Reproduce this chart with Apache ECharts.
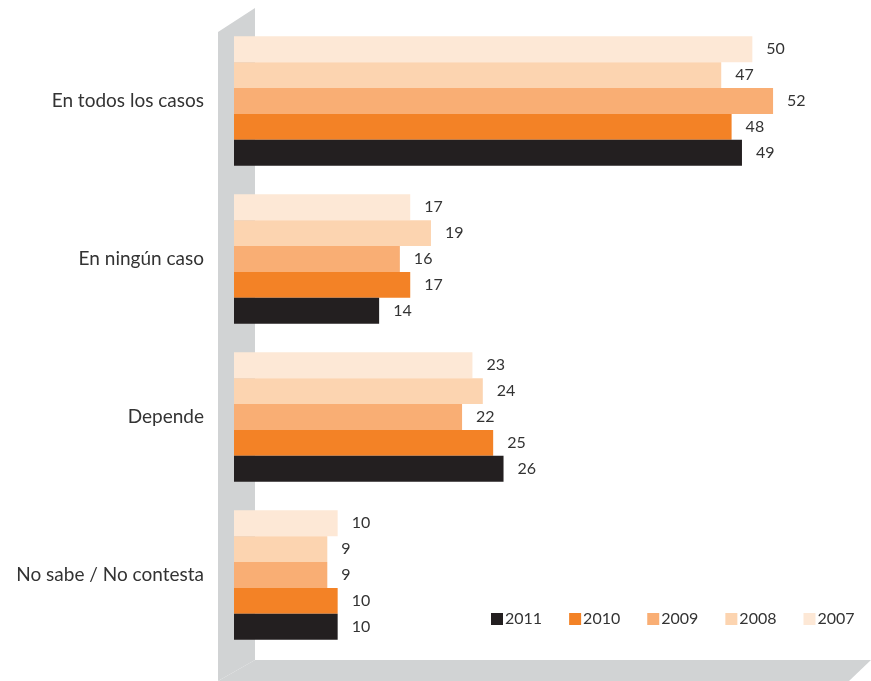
<!DOCTYPE html>
<html>
<head>
<meta charset="utf-8">
<script src="https://cdn.jsdelivr.net/npm/echarts@6/dist/echarts.min.js"></script>
<style>
  html, body { margin: 0; padding: 0; background: #fff; }
  #main { width: 871px; height: 681px; }
</style>
</head>
<body>
<div id="main"></div>
<script>
// categorias (de arriba abajo)
var categorias = ['En todos los casos', 'En ningún caso', 'Depende', 'No sabe / No contesta'];
var anios = ['2007', '2008', '2009', '2010', '2011'];
var leyenda = ['2011', '2010', '2009', '2008', '2007'];
// valores por año
var v2007 = [50, 17, 23, 10];
var v2008 = [47, 19, 24, 9];
var v2009 = [52, 16, 22, 9];
var v2010 = [48, 17, 25, 10];
var v2011 = [49, 14, 26, 10];
var valores = [v2007, v2008, v2009, v2010, v2011];
var colores = ['#fde8d6', '#fcd4b0', '#f9ae74', '#f38226', '#231f20'];

var fuente = 'Lato, "Noto Sans", sans-serif';
var gris = '#d1d3d4';

var chart = echarts.init(document.getElementById('main'));

var series = [];
for (var i = 0; i < anios.length; i++) {
	series.push({
		name: anios[i],
		type: 'bar',
		data: valores[i],
		barGap: 0,
		barCategoryGap: '18%',
		itemStyle: { color: colores[i] },
		label: {
			show: true,
			position: 'right',
			distance: 14,
			color: '#333',
			fontSize: 16,
			fontFamily: fuente
		},
		z: 3
	});
}

chart.setOption({
	animation: false,
	color: colores,
	grid: { left: 234, right: 15, top: 22, height: 632 },
	legend: {
		data: leyenda,
		left: 486,
		top: 606,
		itemWidth: 12,
		itemHeight: 12,
		itemGap: 27,
		icon: 'rect',
		textStyle: { color: '#333', fontSize: 16, fontFamily: fuente, padding: [0, 0, 0, -3] }
	},
	xAxis: {
		type: 'value',
		min: 0,
		max: 60,
		show: false
	},
	yAxis: {
		type: 'category',
		inverse: true,
		data: categorias,
		axisLine: { show: false },
		axisTick: { show: false },
		axisLabel: {
			margin: 30,
			color: '#333',
			fontSize: 19,
			fontFamily: fuente
		}
	},
	graphic: [
		// pared lateral
		{
			type: 'polygon',
			z: -1,
			shape: { points: [[218, 32], [255, 8], [255, 660], [218, 681]] },
			style: { fill: gris }
		},
		// suelo
		{
			type: 'polygon',
			z: -1,
			shape: { points: [[218, 681], [255, 660], [871, 660], [849, 681]] },
			style: { fill: gris }
		}
	],
	series: series
});
</script>
</body>
</html>
